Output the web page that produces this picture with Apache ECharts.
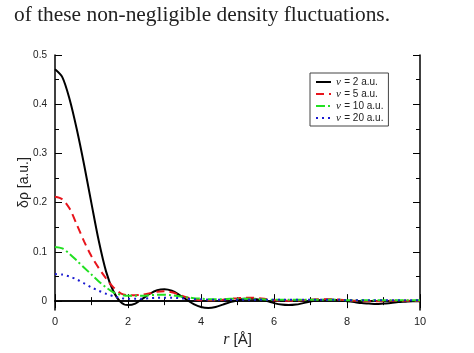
<!DOCTYPE html>
<html>
<head>
<meta charset="utf-8">
<script src="https://cdn.jsdelivr.net/npm/echarts@6/dist/echarts.min.js"></script>
<style>
  html, body { margin: 0; padding: 0; background: #fff; }
  #chart { width: 474px; height: 353px; }
</style>
</head>
<body>
<div id="chart"></div>
<script>
// r grid, 0 .. 10 step 0.2
const rValues = [0, 0.2, 0.4, 0.6, 0.8, 1.0, 1.2, 1.4, 1.6, 1.8, 2.0, 2.2, 2.4, 2.6, 2.8, 3.0, 3.2, 3.4, 3.6, 3.8,
  4.0, 4.2, 4.4, 4.6, 4.8, 5.0, 5.2, 5.4, 5.6, 5.8, 6.0, 6.2, 6.4, 6.6, 6.8, 7.0, 7.2, 7.4, 7.6, 7.8,
  8.0, 8.2, 8.4, 8.6, 8.8, 9.0, 9.2, 9.4, 9.6, 9.8, 10.0];

const v2 = [0.471, 0.455, 0.410, 0.348, 0.276, 0.198, 0.122, 0.060, 0.020, -0.002, -0.008, -0.005, 0.005, 0.015, 0.022, 0.024, 0.021, 0.013, 0.003, -0.006,
  -0.012, -0.014, -0.012, -0.007, -0.002, 0.002, 0.005, 0.005, 0.003, 0.000, -0.004, -0.007, -0.008, -0.007, -0.004, -0.001, 0.002, 0.003, 0.003, 0.002,
  0.000, -0.002, -0.004, -0.005, -0.006, -0.005, -0.004, -0.002, -0.001, 0.000, 0.000];

const v5 = [0.212, 0.207, 0.188, 0.155, 0.121, 0.091, 0.067, 0.046, 0.028, 0.016, 0.012, 0.012, 0.013, 0.016, 0.019, 0.020, 0.018, 0.013, 0.008, 0.004,
  0.002, 0.002, 0.002, 0.003, 0.005, 0.006, 0.007, 0.007, 0.006, 0.004, 0.002, 0.001, 0.001, 0.001, 0.002, 0.003, 0.004, 0.004, 0.004, 0.003,
  0.002, 0.001, 0.000, 0.000, 0.000, 0.000, 0.001, 0.001, 0.001, 0.001, 0.001];

const v10 = [0.110, 0.107, 0.096, 0.082, 0.068, 0.054, 0.040, 0.028, 0.018, 0.013, 0.011, 0.011, 0.011, 0.012, 0.013, 0.013, 0.012, 0.010, 0.008, 0.006,
  0.005, 0.004, 0.004, 0.004, 0.005, 0.005, 0.005, 0.005, 0.004, 0.003, 0.003, 0.003, 0.003, 0.003, 0.003, 0.003, 0.003, 0.003, 0.003, 0.003,
  0.002, 0.002, 0.002, 0.002, 0.002, 0.002, 0.002, 0.002, 0.002, 0.002, 0.002];

const v20 = [0.055, 0.054, 0.050, 0.044, 0.036, 0.028, 0.021, 0.015, 0.010, 0.006, 0.005, 0.005, 0.005, 0.006, 0.007, 0.007, 0.007, 0.006, 0.005, 0.004,
  0.004, 0.003, 0.003, 0.003, 0.003, 0.003, 0.003, 0.003, 0.003, 0.003, 0.003, 0.003, 0.003, 0.003, 0.003, 0.003, 0.003, 0.003, 0.003, 0.003,
  0.002, 0.002, 0.002, 0.002, 0.002, 0.002, 0.002, 0.002, 0.002, 0.002, 0.002];

const seriesNames = ['v = 2 a.u.', 'v = 5 a.u.', 'v = 10 a.u.', 'v = 20 a.u.'];
const yMajor = [0, 0.1, 0.2, 0.3, 0.4, 0.5];
const yMinor = [0.05, 0.15, 0.25, 0.35, 0.45];

const yMin = -0.018, yMax = 0.5;
const font = 'Liberation Sans, Arial, sans-serif';

let mychart = echarts.init(document.getElementById('chart'));

const pairs = (ys) => rValues.map((r, i) => [r, ys[i]]);

const makeLine = (name, ys, color, type, width) => ({
  name: name,
  type: 'line',
  data: pairs(ys),
  smooth: 0.3,
  symbol: 'none',
  lineStyle: { color: color, width: width, type: type },
  itemStyle: { color: color },
  z: 3
});

const yAx = (pos, ticks, len, labels) => ({
  type: 'value',
  position: pos,
  min: yMin,
  max: yMax,
  axisLine: { show: labels, lineStyle: { color: '#000', width: 1.5 } },
  axisTick: { show: true, inside: true, length: len, customValues: ticks, lineStyle: { color: '#000', width: 1 } },
  axisLabel: labels && pos === 'left' ? {
    show: true, customValues: yMajor, color: '#222', fontSize: 10, fontFamily: font, margin: 8,
    formatter: (v) => String(Math.round(v * 10) / 10)
  } : { show: false },
  splitLine: { show: false }
});

const option = {
  animation: false,
  backgroundColor: '#fff',
  title: {
    text: 'of these non-negligible density fluctuations.',
    left: 9,
    top: 0,
    textStyle: { fontFamily: 'Liberation Serif, DejaVu Serif, serif', fontWeight: 'normal', fontSize: 21.4, color: '#222' }
  },
  grid: { left: 55, right: 54, top: 55, bottom: 43, containLabel: false },
  legend: {
    data: seriesNames,
    orient: 'vertical',
    left: 310,
    top: 73,
    itemWidth: 15,
    itemHeight: 6,
    itemGap: 0,
    padding: [3, 5, 2, 5],
    borderColor: '#444',
    borderWidth: 1,
    backgroundColor: '#fff',
    itemStyle: { opacity: 0 },
    formatter: (name) => '{i|v} {t|' + name.slice(2) + '}',
    textStyle: {
      lineHeight: 11,
      rich: {
        i: { fontFamily: 'Liberation Serif, serif', fontStyle: 'italic', fontSize: 11, lineHeight: 11, color: '#222' },
        t: { fontFamily: font, fontSize: 10, lineHeight: 11, color: '#222' }
      }
    }
  },
  xAxis: [
    {
      type: 'value', position: 'bottom', min: 0, max: 10, interval: 2,
      name: '{i|r} [Å]', nameLocation: 'middle', nameGap: 22,
      nameTextStyle: {
        rich: {
          i: { fontFamily: 'Liberation Serif, serif', fontStyle: 'italic', fontSize: 16, color: '#222' }
        },
        fontFamily: font, fontSize: 15, color: '#222'
      },
      axisLine: { lineStyle: { color: '#000', width: 1.5 } },
      axisTick: { inside: true, length: 7, lineStyle: { color: '#000' } },
      minorTick: { show: true, splitNumber: 2, length: 4, lineStyle: { color: '#000' } },
      axisLabel: { color: '#222', fontSize: 11, fontFamily: font, margin: 6 },
      splitLine: { show: false }
    },
    {
      type: 'value', position: 'top', min: 0, max: 10, interval: 2,
      axisLine: { lineStyle: { color: '#000', width: 1.5 } },
      axisTick: { inside: true, length: 7, lineStyle: { color: '#000' } },
      minorTick: { show: true, splitNumber: 2, length: 4, lineStyle: { color: '#000' } },
      axisLabel: { show: false },
      splitLine: { show: false }
    }
  ],
  yAxis: [
    Object.assign(yAx('left', yMajor, 7, true), {
      name: 'δρ [a.u.]', nameLocation: 'middle', nameGap: 24, nameMoveOverlap: false,
      nameTextStyle: { fontFamily: font, fontSize: 14, color: '#222' }
    }),
    yAx('left', yMinor, 4, false),
    yAx('right', yMajor, 7, true),
    yAx('right', yMinor, 4, false)
  ],
  series: [
    makeLine(seriesNames[0], v2, '#000000', 'solid', 2),
    makeLine(seriesNames[1], v5, '#e8141c', [8, 5], 2),
    makeLine(seriesNames[2], v10, '#22e022', [9, 3, 2, 3], 2),
    makeLine(seriesNames[3], v20, '#1a1ad0', [2, 4], 2)
  ]
};

mychart.setOption(option);
</script>
</body>
</html>
